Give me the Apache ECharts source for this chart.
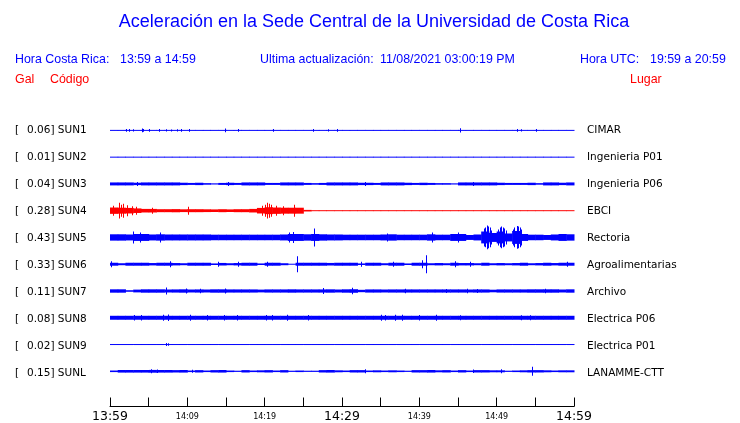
<!DOCTYPE html>
<html><head><meta charset="utf-8">
<script src="https://cdn.jsdelivr.net/npm/echarts@6/dist/echarts.min.js"></script>
<style>html,body{margin:0;padding:0;background:#fff}#c{width:740px;height:423px}</style>
</head><body><div id="c"></div>
<script>
// ---------- text content ----------
const titleText = 'Aceleración en la Sede Central de la Universidad de Costa Rica';
const headerLeft = ['Hora Costa Rica:', '13:59 a 14:59'];
const headerMid = ['Ultima actualización:', '11/08/2021 03:00:19 PM'];
const headerRight = ['Hora UTC:', '19:59 a 20:59'];
const colHeads = ['Gal', 'Código', 'Lugar'];

// ---------- stations ----------
const codes  = ['SUN1','SUN2','SUN3','SUN4','SUN5','SUN6','SUN7','SUN8','SUN9','SUNL'];
const gals   = ['0.06','0.01','0.04','0.28','0.43','0.33','0.11','0.08','0.02','0.15'];
const places = ['CIMAR','Ingenieria P01','Ingenieria P06','EBCI','Rectoria','Agroalimentarias','Archivo','Electrica P06','Electrica P01','LANAMME-CTT'];

// ---------- time axis (minutes after 13:59) ----------
const tickLabels = ['13:59','','14:09','','14:19','','14:29','','14:39','','14:49','','14:59'];
const bigTickLabels = ['13:59','14:29','14:59'];

// ---------- per-minute half-amplitude envelopes (display units) ----------
const envSUN1 = [0,0,0,0,0,0,0,0,0,0, 0,0,0,0,0,0,0,0,0,0, 0,0,0,0,0,0,0,0,0,0, 0,0,0,0,0,0,0,0,0,0, 0,0,0,0,0,0,0,0,0,0, 0,0,0,0,0,0,0,0,0,0];
const envSUN2 = [0,0,0,0,0,0,0,0,0,0, 0,0,0,0,0,0,0,0,0,0, 0,0,0,0,0,0,0,0,0,0, 0,0,0,0,0,0,0,0,0,0, 0,0,0,0,0,0,0,0,0,0, 0,0,0,0,0,0,0,0,0,0];
const envSUN3 = [1.5,1.5,1.5,1.2,1.5,1.5,1.5,1.5,1.5,1.2, 1.0,1.2,0.8,0.6,1.0,1.2,1.0,1.5,1.5,1.5, 1.0,1.0,1.5,1.5,1.5,1.0,0.8,1.0,1.5,1.5, 1.5,1.5,1.2,1.2,1.0,1.5,1.5,1.5,1.2,1.0, 1.2,1.0,0.8,0.8,0.6,1.5,1.5,1.5,1.5,1.5, 1.2,1.0,1.0,1.0,1.2,0.8,1.5,1.5,1.2,1.5];
const envSUN4 = [3.2,3.0,2.8,2.3,1.8,1.8,1.5,1.5,1.6,1.4, 1.5,1.5,1.4,1.3,1.5,1.3,1.5,1.5,1.8,2.8, 3.5,3.2,3.0,3.0,3.0,0.8,0,0,0,0, 0,0,0,0,0,0,0,0,0,0, 0,0,0,0,0,0,0,0,0,0, 0,0,0,0,0,0,0,0,0,0];
const envSUN5 = [3.2,3.2,3.0,3.5,3.5,3.0,3.2,3.0,3.0,3.0, 3.0,3.0,3.0,2.8,2.8,2.8,2.8,2.8,2.8,2.8, 2.8,2.8,3.0,3.5,3.5,3.2,3.5,3.2,3.0,3.0, 2.8,2.8,2.8,2.8,2.8,3.0,3.2,2.8,2.8,2.8, 2.8,3.2,2.8,2.8,3.5,3.5,2.5,3.0,6.0,4.5, 6.0,4.0,6.5,3.5,2.8,2.8,2.5,3.0,3.5,3.2];
const envSUN6 = [1.5,1.0,1.5,1.5,1.5,1.2,1.5,1.5,1.2,1.0, 1.5,1.5,1.5,0.8,1.3,1.0,1.2,1.5,1.5,0.8, 1.5,1.5,1.0,0.5,1.5,1.5,1.5,1.5,1.3,1.5, 1.5,1.5,0.8,1.5,1.5,1.0,1.5,1.5,0.8,1.5, 1.5,1.0,1.2,1.0,1.5,1.2,1.2,1.0,1.5,1.0, 1.2,1.0,1.2,1.5,1.0,1.2,1.5,1.2,1.5,1.5];
const envSUN7 = [1.7,1.7,0.8,1.4,1.7,1.7,1.7,1.5,1.6,1.7, 1.5,1.6,1.5,1.7,1.7,1.6,1.6,1.6,1.6,1.4, 1.6,1.6,1.6,1.7,1.6,1.6,1.6,1.6,1.7,1.5, 1.7,1.8,1.2,1.6,1.6,1.5,1.6,1.6,1.6,1.6, 1.6,1.6,1.6,1.6,1.6,1.6,1.5,1.6,1.6,1.3, 1.6,1.6,1.6,1.6,1.7,1.7,1.7,1.7,1.5,1.7];
const envSUN8 = [2.0,2.0,2.0,2.0,2.0,2.0,2.0,2.0,2.0,2.0, 2.0,2.0,2.0,2.0,2.0,2.0,2.0,2.0,2.0,2.0, 2.0,2.0,2.0,2.0,2.0,2.0,2.0,2.0,2.0,2.0, 2.0,2.0,2.0,2.0,2.0,2.0,2.0,2.0,2.0,2.0, 2.0,2.0,2.0,2.0,2.0,2.0,2.0,2.0,2.0,2.0, 2.0,2.0,2.0,2.0,2.0,2.0,2.0,2.0,2.0,2.0];
const envSUN9 = [0,0,0,0,0,0,0,0,0,0, 0,0,0,0,0,0,0,0,0,0, 0,0,0,0,0,0,0,0,0,0, 0,0,0,0,0,0,0,0,0,0, 0,0,0,0,0,0,0,0,0,0, 0,0,0,0,0,0,0,0,0,0];
const envSUNL = [0.8,1.3,1.3,1.3,1.3,1.4,1.3,1.3,1.2,1.3, 0.8,1.2,0.8,1.2,1.3,0.8,0.6,1.2,0.8,1.0, 1.2,0.8,1.2,0.6,0.8,0.6,0.6,1.2,1.3,1.0, 0.8,1.2,1.2,0.8,1.0,0.8,1.0,0.8,0.6,1.2, 1.2,1.3,1.0,1.2,0.8,1.2,0.8,1.2,1.2,1.0, 1.0,0.6,0.8,1.0,1.2,1.2,1.0,0.8,1.0,1.0];

// ---------- isolated peaks [minute, half-amplitude] ----------
const spkSUN1 = [[2.1,1.5],[2.4,1.5],[3.0,1.2],[4.1,1.8],[4.3,1.5],[5.0,1.5],[6.3,1.5],[7.2,1.2],[7.9,1],[8.7,1.2],[9.2,1.5],[10.2,1.5],[14.9,1.8],[16.6,1.5],[21.1,1.5],[26.3,1.5],[28.2,1.2],[29.4,1.5],[45.3,2.2],[52.6,1.5],[53.1,1.2],[55.1,1.5]];
const spkSUN2 = [];
const spkSUN3 = [[3.5,2],[15.2,2],[33.0,2],[47.0,2]];
const spkSUN4 = [[0.4,5],[1.1,8],[1.4,6],[1.7,7],[2.2,5.5],[2.8,4.5],[3.3,4],[5.4,3],[10.1,4],[19.6,5],[20.0,6],[20.3,8],[20.5,7],[20.8,6],[21.5,5],[22.4,4.5],[23.8,6]];
const spkSUN5 = [[3.0,6],[3.9,5],[6.5,5],[23.1,5],[23.6,5.5],[26.4,9],[35.8,4],[41.6,5],[45.0,5],
  [48.3,9],[48.5,10],[48.7,12],[48.9,11],[49.1,10],[49.3,7],
  [50.2,8],[50.4,10],[50.6,11],[50.8,10],[51.0,9],[51.2,7],
  [52.1,8],[52.3,10],[52.6,11.5],[52.8,11],[53.0,10],[53.2,8]];
const spkSUN6 = [[0.1,3],[7.7,3],[14.0,2.5],[16.6,2.5],[20.3,2.5],[24.2,8],[32.4,2.5],[36.6,2.5],[40.3,4],[40.8,9],[44.6,3],[46.6,2.5],[59.1,2.5]];
const spkSUN7 = [[7.3,3.5],[9.8,2.5],[11.6,2.2],[14.9,2.5],[27.5,3],[31.3,3.2],[38.2,2.2],[43.5,2],[46.1,2.2],[47.4,2],[56.3,2.2]];
const spkSUN8 = [[3.1,2.7],[4.0,2.7],[6.8,3],[7.5,3.2],[10.3,3],[12.5,2.7],[14.8,2.7],[16.4,2.7],[20.2,2.8],[20.9,2.8],[22.9,3],[25.6,2.7],[35.0,3],[35.6,2.8],[36.8,3],[37.8,3],[40.0,2.7],[42.2,3],[45.2,2.6],[53.2,2.6],[54.3,2.6]];
const spkSUN9 = [[7.2,1.5],[7.5,1.2]];
const spkSUNL = [[5.3,2],[6.1,1.8],[10.6,1.5],[33.0,2],[46.9,1.8],[50.6,2],[54.6,4.5]];

const envelopes = [envSUN1,envSUN2,envSUN3,envSUN4,envSUN5,envSUN6,envSUN7,envSUN8,envSUN9,envSUNL];
const peaks = [spkSUN1,spkSUN2,spkSUN3,spkSUN4,spkSUN5,spkSUN6,spkSUN7,spkSUN8,spkSUN9,spkSUNL];

// ---------- layout ----------
const BLUE = '#0000ff', RED = '#ff0000';
const ROW = 27;
const GRID_TOP = 117, GRID_LEFT = 110, GRID_W = 464;
const Y_MAX = 292;
const traceColors = codes.map(c => c === 'SUN4' ? RED : BLUE);

function makeRender(color) {
  return function (params, api) {
    const t0 = api.value(0), t1 = api.value(1), amp = api.value(2), row = api.value(3), kind = api.value(4);
    const c = row * ROW + ROW / 2;
    const pTop = api.coord([t0, c - amp]);
    const pBot = api.coord([t1, c + amp]);
    const pc = api.coord([t0, c]);
    let y0 = Math.min(pTop[1], pBot[1]);
    let h = Math.abs(pBot[1] - pTop[1]);
    if (h < 1) { y0 = pc[1] - 0.5; h = 1; }
    let x, w;
    if (kind === 1) {
      x = Math.round((pTop[0] + pBot[0]) / 2); w = 1;
    } else {
      x = pTop[0]; w = pBot[0] - pTop[0] + 0.5;
    }
    return { type: 'rect', shape: { x: x, y: y0, width: w, height: h }, style: { fill: color } };
  };
}

const series = codes.map((code, i) => {
  const data = [];
  envelopes[i].forEach((a, k) => data.push([k, k + 1, a, i, 0]));
  peaks[i].forEach(p => data.push([p[0], p[0], p[1], i, 1]));
  return {
    type: 'custom', name: code, renderItem: makeRender(traceColors[i]),
    data: data, encode: { x: [0, 1], y: 2 }, silent: true, animation: false, clip: false
  };
});

const FONT_SANS = 'Liberation Sans, Arial, sans-serif';
const FONT_DJ = 'DejaVu Sans, sans-serif';
const graphics = [];
function txt(x, y, s, opt) {
  graphics.push({ type: 'text', x: x, y: y, silent: true,
    style: Object.assign({ text: s, fill: BLUE, font: '12.4px ' + FONT_SANS, textVerticalAlign: 'middle', textAlign: 'left' }, opt || {}) });
}
txt(374, 22, titleText, { font: '18px ' + FONT_SANS, textAlign: 'center' });
txt(15, 60, headerLeft[0]); txt(120, 60, headerLeft[1]);
txt(260, 60, headerMid[0]); txt(380, 60, headerMid[1]);
txt(580, 60, headerRight[0]); txt(650, 60, headerRight[1]);
txt(15, 80, colHeads[0], { fill: RED }); txt(50, 80, colHeads[1], { fill: RED });
txt(630, 80, colHeads[2], { fill: RED });
codes.forEach((code, i) => {
  const y = GRID_TOP + ROW / 2 + ROW * i;
  txt(15, y, '[', { fill: '#000', font: '10.5px ' + FONT_DJ });
  txt(27, y, gals[i] + '] ' + code, { fill: '#000', font: '10.5px ' + FONT_DJ });
  txt(587, y, places[i], { fill: '#000', font: '10.5px ' + FONT_DJ });
});

const chart = echarts.init(document.getElementById('c'), null, { renderer: 'canvas' });
chart.setOption({
  animation: false,
  backgroundColor: '#fff',
  grid: { left: GRID_LEFT, top: GRID_TOP, width: GRID_W, bottom: 14, containLabel: false },
  xAxis: {
    type: 'value', min: 0, max: 60, interval: 5, position: 'bottom',
    axisLine: { show: true, onZero: false, lineStyle: { color: '#000', width: 1 } },
    axisTick: { show: true, inside: true, length: 9, lineStyle: { color: '#000', width: 1 } },
    splitLine: { show: false },
    axisLabel: {
      show: true, margin: 3, showMinLabel: true, showMaxLabel: true, hideOverlap: false,
      formatter: function (v) {
        const s = tickLabels[Math.round(v / 5)] || '';
        if (!s) return '';
        return bigTickLabels.indexOf(s) >= 0 ? '{b|' + s + '}' : '{s|' + s + '}';
      },
      rich: {
        b: { fontFamily: 'DejaVu Sans', fontSize: 12.5, color: '#000', lineHeight: 14 },
        s: { fontFamily: 'DejaVu Sans', fontSize: 8, color: '#000', lineHeight: 14 }
      }
    }
  },
  yAxis: { type: 'value', min: 0, max: Y_MAX, inverse: true, show: false },
  graphic: graphics,
  series: series
});
</script>
</body></html>
